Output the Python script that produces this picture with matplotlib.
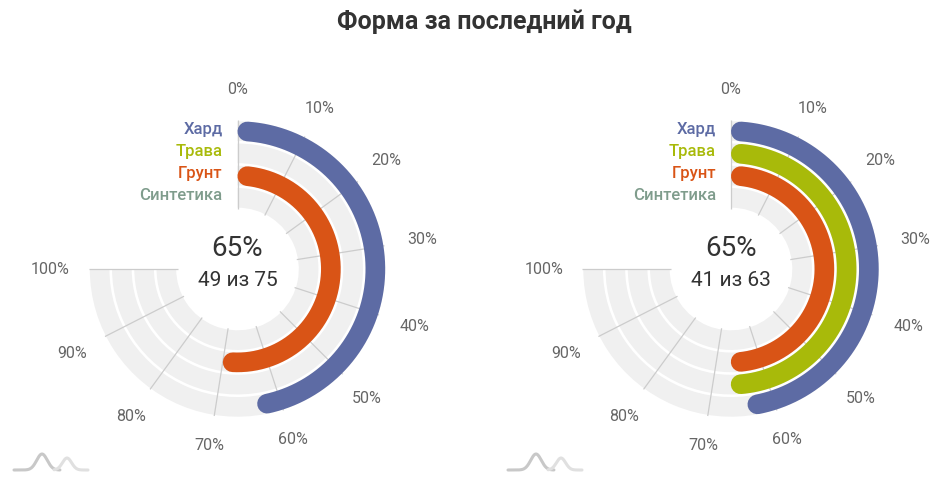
import numpy as np
import matplotlib
matplotlib.use("Agg")
import matplotlib.pyplot as plt
from matplotlib.transforms import offset_copy

# ---- data ----
surfaces = ["Хард", "Трава", "Грунт", "Синтетика"]
surface_colors = ["#5d6ba4", "#a8ba0a", "#d95416", "#7f9c8c"]
left_values = [63.6, None, 70.0, None]      # % wins per surface
right_values = [64.1, 66.7, 66.7, None]
left_total_pct = "65%"
left_total_text = "49 из 75"
right_total_pct = "65%"
right_total_text = "41 из 63"
tick_values = [0, 10, 20, 30, 40, 50, 60, 70, 80, 90, 100]
title = "Форма за последний год"

DPI = 100
W, H = 950, 488
plt.rcParams['font.family'] = ['Roboto', 'DejaVu Sans']

fig = plt.figure(figsize=(W / DPI, H / DPI), dpi=DPI)
fig.patch.set_facecolor("white")

R_IN, R_OUT = 60.0, 149.0
PITCH = (R_OUT - R_IN) / 4
THICK = PITCH - 2.6
SPAN = 1.5 * np.pi


def to_theta(v):
    return v / 100.0 * SPAN


def draw_gauge(cx, cy, values, pct_text, count_text):
    size = 2 * R_OUT
    ax = fig.add_axes([(cx - R_OUT) / W, (H - cy - R_OUT) / H, size / W, size / H],
                      projection="polar")
    ax.set_theta_zero_location("N")
    ax.set_theta_direction(-1)
    ax.set_ylim(0, R_OUT)
    ax.axis("off")

    # background tracks
    for i in range(4):
        r_mid = R_OUT - PITCH * i - PITCH / 2
        ax.bar(0, THICK, width=SPAN, bottom=r_mid - THICK / 2, align="edge",
               color="#f0f0f0", edgecolor="none", zorder=1)
    # radial grid
    for t in tick_values:
        th = to_theta(t)
        ax.plot([th, th], [R_IN, R_OUT], color="#cccccc", lw=0.9, zorder=2,
                solid_capstyle="butt")
        r_lab = 179 + 8 * np.sin(th) ** 2
        ax.text(th, r_lab, f"{t}%", ha="center", va="center", fontsize=11.5,
                color="#666666", clip_on=False)
    # bars
    lw_pt = THICK * 72.0 / DPI
    for i, v in enumerate(values):
        if v is None:
            continue
        r_mid = R_OUT - PITCH * i - PITCH / 2
        c = (THICK / 2) / r_mid
        th = np.linspace(c, to_theta(v) - c, 300)
        ax.plot(th, np.full_like(th, r_mid), color=surface_colors[i], lw=lw_pt,
                solid_capstyle="round", zorder=3)
    # legend labels
    for i, name in enumerate(surfaces):
        r_mid = R_OUT - PITCH * i - PITCH / 2
        tr = offset_copy(ax.transData, fig=fig, x=-15, y=2, units="dots")
        ax.text(0, r_mid, name, transform=tr, ha="right", va="center",
                fontsize=12, fontweight="medium", color=surface_colors[i],
                clip_on=False)
    # centre text
    ax.text(0.5, 0.5, pct_text, transform=offset_copy(ax.transAxes, fig=fig, x=0, y=21, units="dots"),
            ha="center", va="center", fontsize=20, color="#333333")
    ax.text(0.5, 0.5, count_text, transform=offset_copy(ax.transAxes, fig=fig, x=0, y=-12, units="dots"),
            ha="center", va="center", fontsize=15, color="#333333")


def draw_logo(x0):
    # decorative site logo (two soft bumps on a baseline)
    lax = fig.add_axes([x0 / W, (H - 476) / H, 80 / W, 28 / H])
    lax.axis("off")
    lax.set_xlim(0, 80)
    lax.set_ylim(28, 0)
    x = np.linspace(0, 80, 400)
    b1 = 16 * np.exp(-((x - 30) / 7.5) ** 2)
    b2 = 12 * np.exp(-((x - 55) / 6.5) ** 2)
    m1 = (x > 2) & (x < 48)
    m2 = (x > 42) & (x < 76)
    lax.plot(x[m1], (22 - b1)[m1], color="#c8c8c8", lw=2.2, solid_capstyle="round")
    lax.plot(x[m2], (22 - b2)[m2], color="#e0e0e0", lw=2.2, solid_capstyle="round")


draw_gauge(237.5, 269, left_values, left_total_pct, left_total_text)
draw_gauge(731, 269, right_values, right_total_pct, right_total_text)
draw_logo(12)
draw_logo(506)

fig.text(484 / W, 1 - 22 / H, title, ha="center", va="center", fontsize=18,
         fontweight="bold", color="#333333")

fig.savefig("out.png", dpi=DPI, facecolor="white")
